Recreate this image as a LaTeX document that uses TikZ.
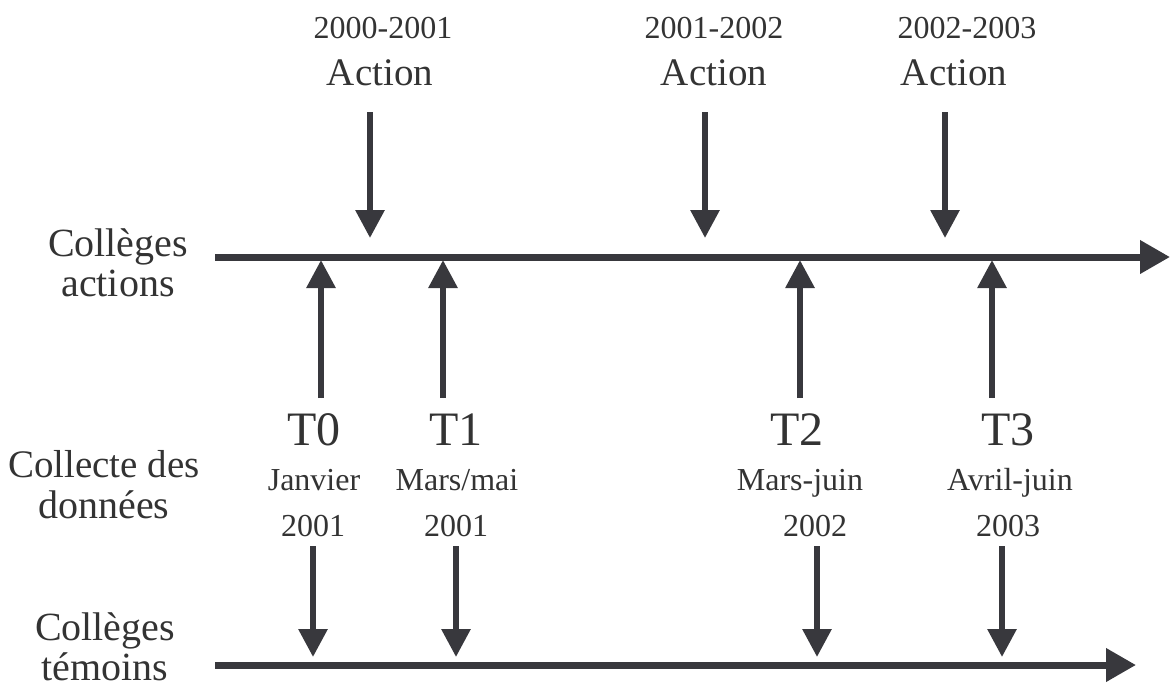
\documentclass[tikz,border=0pt]{standalone}
\usepackage{fontspec}
\setmainfont{Liberation Serif}
\usetikzlibrary{arrows.meta}
\definecolor{traitgris}{HTML}{38383D}
\definecolor{textegris}{HTML}{333333}

\begin{document}
\begin{tikzpicture}[x=0.5pt,y=-0.5pt,>={Triangle[length=14pt,width=14pt]},
  axe/.style={line width=3.5pt,draw=traitgris,fill=traitgris},
  fleche/.style={line width=3pt,draw=traitgris,fill=traitgris,->},
  lab/.style={text=textegris,inner sep=0pt,anchor=base},
  grand/.style={lab,font=\fontsize{24}{24}\selectfont},
  moyen/.style={lab,font=\fontsize{20}{20}\selectfont},
  action/.style={lab,font=\fontsize{19.5}{19.5}\selectfont},
  annee/.style={lab,font=\fontsize{16}{16}\selectfont},
  mois/.style={lab,font=\fontsize{16}{16}\selectfont}]
\useasboundingbox (0,0) rectangle (1170,686);
% axes
\coordinate (actdeb) at (215,257);
\coordinate (actfin) at (1170,257);
\coordinate (temdeb) at (215,665);
\coordinate (temfin) at (1136,665);
\draw[axe,-{Triangle[length=15pt,width=16pt]}] (actdeb) -- (actfin);
\draw[axe,-{Triangle[length=15pt,width=16pt]}] (temdeb) -- (temfin);
% labels on the left
\node[moyen] (coll1) at (118,256) {Collèges};
\node[moyen] (coll2) at (118,296) {actions};
\node[moyen,font=\fontsize{19.5}{19.5}\selectfont] (coll3) at (104,477) {Collecte des};
\node[moyen] (coll4) at (104,518) {données};
\node[moyen] (coll5) at (105,640) {Collèges};
\node[moyen] (coll6) at (105,680) {témoins};
% actions
\node[annee] (per1) at (383,38) {2000-2001};
\node[action] (act1) at (380,85) {Action};
\node[annee] (per2) at (714,38) {2001-2002};
\node[action] (act2) at (714,85) {Action};
\node[annee] (per3) at (967,38) {2002-2003};
\node[action] (act3) at (954,85) {Action};
\foreach \x [count=\i] in {370,705,945}{
  \coordinate (hd\i) at (\x,112);
  \coordinate (hf\i) at (\x,238);
  \draw[fleche] (hd\i) -- (hf\i);
}
% temps de collecte
\node[grand] (t0) at (314,445) {T0};
\node[grand] (t1) at (456,445) {T1};
\node[grand] (t2) at (797,445) {T2};
\node[grand] (t3) at (1008,445) {T3};
\node[mois] (m0) at (314,490) {Janvier};
\node[mois] (m1) at (457,490) {Mars/mai};
\node[mois] (m2) at (800,490) {Mars-juin};
\node[mois] (m3) at (1010,490) {Avril-juin};
\node[annee] (a0) at (313,536) {2001};
\node[annee] (a1) at (456,536) {2001};
\node[annee] (a2) at (815,536) {2002};
\node[annee] (a3) at (1008,536) {2003};
\foreach \x [count=\i] in {321,443,800,992}{
  \coordinate (md\i) at (\x,398);
  \coordinate (mf\i) at (\x,260);
  \draw[fleche] (md\i) -- (mf\i);
}
\foreach \x [count=\i] in {313,456,817,1002}{
  \coordinate (bd\i) at (\x,546);
  \coordinate (bf\i) at (\x,657);
  \draw[fleche] (bd\i) -- (bf\i);
}
\end{tikzpicture}
\end{document}
